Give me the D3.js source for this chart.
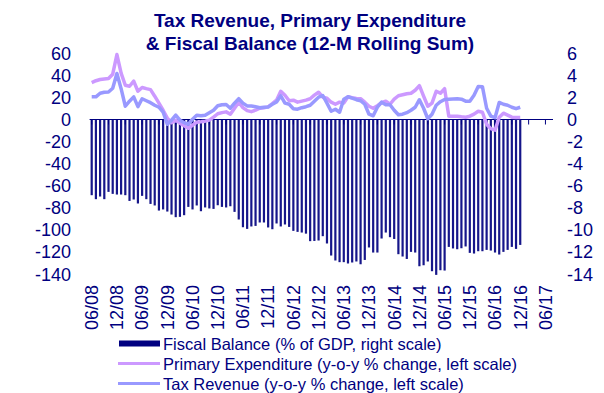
<!DOCTYPE html>
<html>
<head>
<meta charset="utf-8">
<script src="https://cdn.jsdelivr.net/npm/d3@7"></script>
<style>
  body { margin: 0; background: #fff; }
  svg { display: block; font-family: "Liberation Sans", Arial, sans-serif; }
</style>
</head>
<body>
<svg id="chart" width="604" height="393"></svg>
<script>
// Monthly series, first observation June 2008, last December 2016
const firstMonth = { year: 2008, month: 6 };

// Fiscal balance, % of GDP (right scale)
const fiscalBalance = [
  -6.85,-7.21,-6.97,-7.21,-6.55,-6.73,-6.79,-6.79,-6.85,-7.37,
  -7.24,-7.60,-6.91,-7.21,-7.64,-7.78,-8.24,-8.14,-8.33,-8.60,
  -8.84,-8.81,-8.66,-7.91,-8.14,-7.78,-8.30,-7.96,-8.05,-8.09,
  -7.76,-7.91,-7.96,-7.85,-8.36,-9.05,-9.75,-9.90,-9.68,-9.63,
  -9.32,-9.32,-9.77,-9.93,-9.41,-9.68,-9.50,-9.72,-10.08,-10.17,
  -10.23,-10.33,-11.01,-10.99,-10.95,-10.56,-11.22,-12.31,-12.76,-12.91,
  -12.91,-13.03,-12.94,-12.85,-13.10,-12.71,-11.58,-12.04,-12.04,-10.77,
  -10.23,-10.65,-10.81,-12.19,-12.40,-12.62,-11.98,-12.04,-13.28,-13.19,
  -12.85,-13.73,-14.06,-13.64,-13.67,-11.53,-11.67,-11.74,-11.65,-11.49,
  -12.07,-12.13,-11.92,-11.92,-11.80,-11.86,-12.04,-12.22,-11.98,-11.80,
  -11.53,-11.71,-11.35
];

// Primary expenditure, y-o-y % change (left scale)
const primaryExpenditure = [
  33.4,35.1,36.2,36.7,37.1,41.0,58.8,41.9,31.0,30.1,
  34.7,25.6,29.0,27.9,27.0,21.1,14.8,8.4,1.2,-2.9,
  -0.6,-3.3,-5.6,-7.9,-5.2,-2.4,-2.0,-1.5,-0.6,2.1,
  5.2,6.2,6.9,4.8,10.2,15.7,10.7,8.0,7.1,8.4,
  10.2,10.7,11.4,14.3,17.5,25.6,22.0,17.0,17.5,15.7,
  16.6,17.5,18.8,22.0,24.7,20.2,19.3,15.7,13.8,15.7,
  14.8,20.6,19.7,19.0,18.8,15.7,12.0,10.2,12.5,15.2,
  16.6,13.8,18.4,21.5,22.4,23.3,23.8,26.5,30.6,21.1,
  12.0,14.8,25.6,23.8,27.9,3.0,3.0,3.0,2.5,2.1,
  3.0,4.8,7.5,6.6,-4.3,-8.3,-9.7,2.1,5.7,3.9,
  2.1,1.8,1.8
];

// Tax revenue, y-o-y % change (left scale)
const taxRevenue = [
  20.5,20.5,23.8,24.7,24.9,28.3,41.6,27.9,12.0,16.6,
  20.5,11.6,18.8,17.0,15.2,12.9,11.1,6.6,-4.3,-0.6,
  3.9,-0.6,-2.9,-4.3,0.3,3.9,3.4,3.9,6.2,8.4,
  12.5,13.4,13.6,10.2,14.8,18.8,14.8,12.3,12.3,11.6,
  10.7,11.1,11.4,13.8,15.9,21.5,14.8,13.8,9.8,9.3,
  10.7,11.6,12.9,16.6,20.2,21.7,14.8,7.5,9.3,6.6,
  18.4,20.6,19.3,17.9,17.0,13.8,4.8,3.4,11.1,15.7,
  13.4,13.4,8.4,4.3,4.8,6.2,8.4,11.1,17.9,10.2,
  0.7,4.8,12.9,16.1,18.1,18.4,18.6,18.8,18.4,16.6,
  16.6,22.0,29.9,29.7,10.2,3.0,1.6,15.4,13.8,12.9,
  11.1,9.8,11.1
];

// Axis ticks
const leftTicks = [60, 40, 20, 0, -20, -40, -60, -80, -100, -120, -140];
const rightTicks = [6, 4, 2, 0, -2, -4, -6, -8, -10, -12, -14];
const xTickLabels = ["06/08","12/08","06/09","12/09","06/10","12/10","06/11","12/11","06/12",
                     "12/12","06/13","12/13","06/14","12/14","06/15","12/15","06/16","12/16","06/17"];

const legendItems = [
  { label: "Fiscal Balance (% of GDP, right scale)", kind: "bar", color: "#000080" },
  { label: "Primary Expenditure (y-o-y % change, left scale)", kind: "line", color: "#cc99ff" },
  { label: "Tax Revenue (y-o-y % change, left scale)", kind: "line", color: "#9999ff" }
];

const navy = "#000080";
const svg = d3.select("#chart");

// month index from "MM/YY" label
function monthIndex(lbl) {
  const [mm, yy] = lbl.split("/").map(Number);
  return (2000 + yy - firstMonth.year) * 12 + (mm - firstMonth.month);
}

const x = d3.scaleLinear().domain([-0.5, 109.8]).range([89.6, 553]);
const yL = d3.scaleLinear().domain([-140, 60]).range([274.2, 53.2]);
const yR = d3.scaleLinear().domain([-14, 6]).range([274.2, 53.2]);

// Title
const title = svg.append("text")
  .attr("text-anchor", "middle")
  .attr("fill", navy).attr("font-weight", "bold").attr("font-size", 19);
title.append("tspan").attr("x", 310).attr("y", 27).text("Tax Revenue, Primary Expenditure");
title.append("tspan").attr("x", 310).attr("y", 50).text("& Fiscal Balance (12-M Rolling Sum)");

// Fiscal balance bars
svg.append("g").selectAll("rect")
  .data(fiscalBalance)
  .join("rect")
  .attr("x", (d, i) => x(i) - 1.1)
  .attr("width", 2.2)
  .attr("y", d => yR(Math.max(0, d)))
  .attr("height", d => Math.abs(yR(d) - yR(0)))
  .attr("fill", "#16168a");

// Category axis at zero
const xAxisY = yL(0);
svg.append("line")
  .attr("x1", x.range()[0]).attr("x2", x.range()[1])
  .attr("y1", xAxisY).attr("y2", xAxisY)
  .attr("stroke", navy).attr("stroke-width", 1);

const tickIdx = d3.range(0, 109, 4);
svg.append("g").selectAll("line")
  .data(tickIdx)
  .join("line")
  .attr("x1", d => x(d)).attr("x2", d => x(d))
  .attr("y1", xAxisY).attr("y2", xAxisY + 5)
  .attr("stroke", navy).attr("stroke-width", 1);

// Rotated date labels along the bottom
svg.append("g").selectAll("text")
  .data(xTickLabels)
  .join("text")
  .attr("transform", d => `translate(${x(monthIndex(d))},285) rotate(-90)`)
  .attr("text-anchor", "end")
  .attr("dy", "0.35em")
  .attr("font-size", 18)
  .attr("fill", navy)
  .text(d => d);

// Left value labels
svg.append("g").selectAll("text")
  .data(leftTicks)
  .join("text")
  .attr("x", 71).attr("y", d => yL(d))
  .attr("dy", "0.35em")
  .attr("text-anchor", "end")
  .attr("font-size", 18)
  .attr("fill", navy)
  .text(d => d);

// Right value labels
svg.append("g").selectAll("text")
  .data(rightTicks)
  .join("text")
  .attr("x", 567).attr("y", d => yR(d))
  .attr("dy", "0.35em")
  .attr("text-anchor", "start")
  .attr("font-size", 18)
  .attr("fill", navy)
  .text(d => d);

// Lines
const line = d3.line().x((d, i) => x(i)).y(d => yL(d));
svg.append("path")
  .datum(primaryExpenditure)
  .attr("d", line)
  .attr("fill", "none")
  .attr("stroke", legendItems[1].color)
  .attr("stroke-width", 3.5)
  .attr("stroke-linejoin", "round");
svg.append("path")
  .datum(taxRevenue)
  .attr("d", line)
  .attr("fill", "none")
  .attr("stroke", legendItems[2].color)
  .attr("stroke-width", 3.5)
  .attr("stroke-linejoin", "round");

// Legend
const legend = svg.append("g");
legendItems.forEach((it, i) => {
  const cy = 343.5 + i * 20;
  if (it.kind === "bar") {
    legend.append("rect").attr("x", 119).attr("y", cy - 3).attr("width", 41).attr("height", 6).attr("fill", it.color);
  } else {
    legend.append("line").attr("x1", 118).attr("x2", 160).attr("y1", cy).attr("y2", cy)
      .attr("stroke", it.color).attr("stroke-width", 3);
  }
  legend.append("text")
    .attr("x", 163).attr("y", cy + 6)
    .attr("font-size", 16.5)
    .attr("fill", navy)
    .text(it.label);
});
</script>
</body>
</html>
